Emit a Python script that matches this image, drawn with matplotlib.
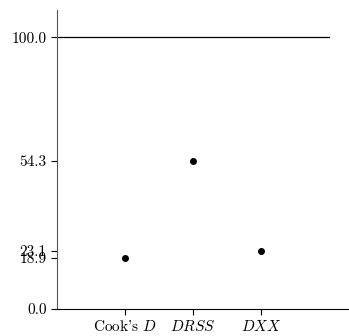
import matplotlib
matplotlib.use("Agg")
import matplotlib.pyplot as plt

# datos
methods = ["Cook's $D$", "$DRSS$", "$DXX$"]
values = [18.9, 54.5, 21.4]
tick_labels = ['0.0', '18.9', '23.1', '54.3', '100.0']
ref_value = 100.0

plt.rcParams['font.family'] = 'serif'
plt.rcParams['font.serif'] = ['cmr10']
plt.rcParams['mathtext.fontset'] = 'cm'
plt.rcParams['axes.unicode_minus'] = False

fig = plt.figure(figsize=(3.49, 3.36), dpi=100)
ax = fig.add_axes([57 / 349, 27 / 336, 1 - 57 / 349, 299 / 336])

x = range(1, len(methods) + 1)
ax.scatter(x, values, color='black', s=16, zorder=3)
ax.plot([0, 4], [ref_value, ref_value], color='black', lw=0.9)

ax.set_xlim(0, 4.29)
ax.set_ylim(0, 110)
ax.set_xticks(list(x))
ax.set_xticklabels(methods)
ax.set_yticks([0.0] + sorted(values) + [ref_value])
ax.set_yticklabels(tick_labels)

ax.spines['top'].set_visible(False)
ax.spines['right'].set_visible(False)
ax.spines['left'].set_color('#555555')
ax.tick_params(labelsize=11, length=4, width=0.8)

fig.savefig('out.png', dpi=100)
